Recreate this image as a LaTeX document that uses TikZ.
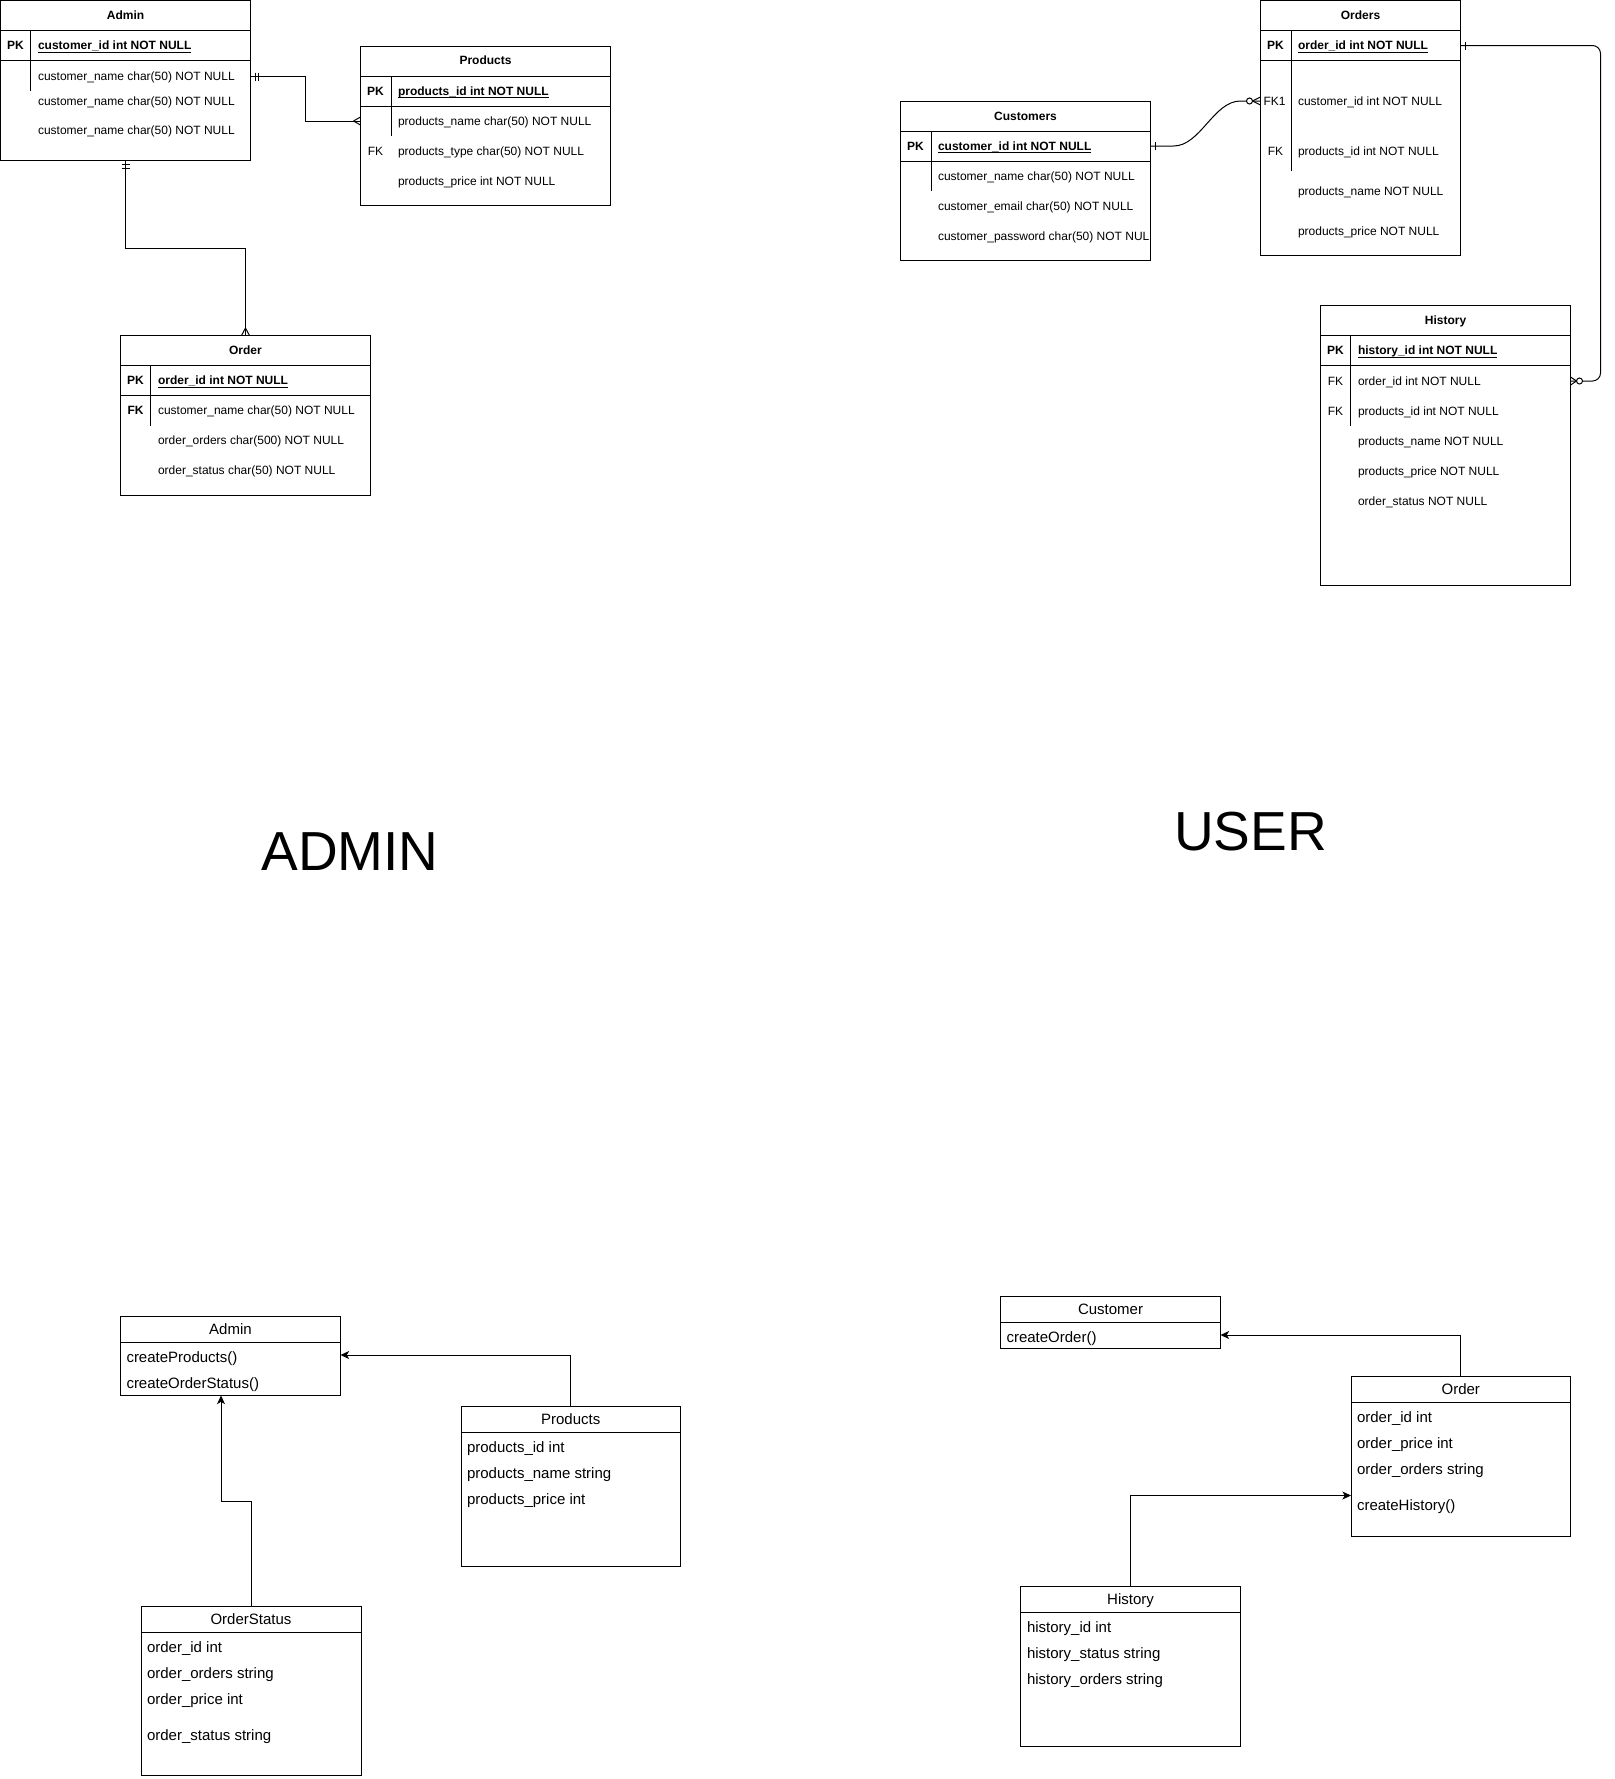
\documentclass[tikz,border=0pt]{standalone}
\usepackage{fontspec}
\setmainfont{Liberation Sans}
\usetikzlibrary{fit,arrows.meta}

% key field text: thin underline close to the baseline
\newcommand{\keyfield}[1]{\leavevmode\setbox0\hbox{\bfseries #1}\rlap{\rule[-1.9pt]{\wd0}{0.65pt}}\box0}

\begin{document}
\begin{tikzpicture}[x=0.75pt, y=-0.75pt, line width=0.75pt,
  tbl/.style={draw, inner sep=0pt, outer sep=0pt, fit={#1}},
  ertitle/.style={font=\fontsize{9}{11}\selectfont\bfseries, inner sep=0pt, text height=6.5pt, text depth=0pt, anchor=center},
  erkey/.style={font=\fontsize{9}{11}\selectfont, inner sep=0pt, text height=6.5pt, text depth=0pt, anchor=center},
  erfield/.style={font=\fontsize{9}{11}\selectfont, inner sep=0pt, text height=6.5pt, text depth=0pt, anchor=west},
  umltitle/.style={font=\fontsize{11.25}{13}\selectfont, inner sep=0pt, text height=8.1pt, text depth=0pt, anchor=center},
  umlfield/.style={font=\fontsize{11.25}{13}\selectfont, inner sep=0pt, text height=8.1pt, text depth=0pt, anchor=west},
  bigtitle/.style={font=\fontsize{41.25}{48}\selectfont, inner sep=0pt, text height=29.5pt, text depth=0pt, anchor=center},
  umlarrow/.style={-{Stealth[length=6.5pt,width=6pt,inset=1.8pt]}},
  zeromark/.style={draw, fill=white}
]
\fill[white] (-0.5,-0.5) rectangle (1614.5,1778.5);
\useasboundingbox (-0.5,-0.5) rectangle (1614.5,1778.5);

% ================= ER: admin side =================
% Admin table
\node[tbl={(0,0) (250,160)}] (erAdmin) {};
\draw (0,30) -- (250,30) (0,60) -- (250,60) (30,30) -- (30,90);
\node[ertitle] (admT) at (125,15) {Admin};
\node[erkey, font=\fontsize{9}{11}\selectfont\bfseries] (admPK) at (15,45) {PK};
\node[erfield] (admId) at (37,45) {\keyfield{customer\_id int NOT NULL}};
\node[erfield] (admN1) at (37,76) {customer\_name char(50) NOT NULL};
\node[erfield] (admN2) at (37,101) {customer\_name char(50) NOT NULL};
\node[erfield] (admN3) at (37,130) {customer\_name char(50) NOT NULL};

% Products table
\node[tbl={(360,45.5) (610,205)}] (erProducts) {};
\draw (360,75.5) -- (610,75.5) (360,105.5) -- (610,105.5) (390.5,75.5) -- (390.5,135);
\node[ertitle] (prdT) at (485,60) {Products};
\node[erkey, font=\fontsize{9}{11}\selectfont\bfseries] (prdPK) at (375,90.5) {PK};
\node[erfield] (prdId) at (397,90.5) {\keyfield{products\_id int NOT NULL}};
\node[erfield] (prdName) at (397,120.5) {products\_name char(50) NOT NULL};
\node[erkey] (prdFK) at (375,150.5) {FK};
\node[erfield] (prdType) at (397,150.5) {products\_type char(50) NOT NULL};
\node[erfield] (prdPrice) at (397,180.5) {products\_price int NOT NULL};

% Order table
\node[tbl={(120,335) (370,495)}] (erOrder) {};
\draw (120,365) -- (370,365) (120,395) -- (370,395) (150,365) -- (150,425);
\node[ertitle] (ordT) at (245,350) {Order};
\node[erkey, font=\fontsize{9}{11}\selectfont\bfseries] (ordPK) at (135,380) {PK};
\node[erfield] (ordId) at (157,380) {\keyfield{order\_id int NOT NULL}};
\node[erkey, font=\fontsize{9}{11}\selectfont\bfseries] (ordFK) at (135,410) {FK};
\node[erfield] (ordCust) at (157,410) {customer\_name char(50) NOT NULL};
\node[erfield] (ordOrders) at (157,440) {order\_orders char(500) NOT NULL};
\node[erfield] (ordStatus) at (157,470) {order\_status char(50) NOT NULL};

% Admin -> Products (one and only one to many)
\draw (erAdmin.east |- admN1) -- ++(55,0) |- (erProducts.west |- prdName);
\draw (erAdmin.east |- admN1) ++(4.5,-4) -- ++(0,8) ++(3.5,-8) -- ++(0,8);
\draw (erProducts.west |- prdName) ++(-7,0) -- ++(7,-4) ++(-7,4) -- ++(7,4);

% Admin -> Order (one and only one to many)
\draw (erAdmin.south) -- ++(0,87.5) -| (erOrder.north);
\draw (erAdmin.south) ++(-4,4) -- ++(8,0) ++(-8,4) -- ++(8,0);
\draw (erOrder.north) ++(0,-7.5) -- ++(-4,7.5) ++(4,-7.5) -- ++(4,7.5);

% ================= ER: user side =================
% Customers table
\node[tbl={(900,100.5) (1150,260)}] (erCustomers) {};
\draw (900,130.5) -- (1150,130.5) (900,160.5) -- (1150,160.5) (930.5,130.5) -- (930.5,190);
\node[ertitle] (cusT) at (1025,115.5) {Customers};
\node[erkey, font=\fontsize{9}{11}\selectfont\bfseries] (cusPK) at (915,145.5) {PK};
\node[erfield] (cusId) at (937,145.5) {\keyfield{customer\_id int NOT NULL}};
\node[erfield] (cusName) at (937,175.5) {customer\_name char(50) NOT NULL};
\node[erfield] (cusMail) at (937,205.5) {customer\_email char(50) NOT NULL};
\node[erfield] (cusPass) at (937,235.5) {customer\_password char(50) NOT NUL};

% Orders table
\node[tbl={(1260,0) (1460,255)}] (erOrders) {};
\draw (1260,30) -- (1460,30) (1260,60) -- (1460,60) (1290.5,30) -- (1290.5,170);
\node[ertitle] (osT) at (1360,15) {Orders};
\node[erkey, font=\fontsize{9}{11}\selectfont\bfseries] (osPK) at (1275,45) {PK};
\node[erfield] (osId) at (1297,45) {\keyfield{order\_id int NOT NULL}};
\node[erkey] (osFK1) at (1274,100.5) {FK1};
\node[erfield] (osCust) at (1297,100.5) {customer\_id int NOT NULL};
\node[erkey] (osFK2) at (1275,150.5) {FK};
\node[erfield] (osPrd) at (1297,150.5) {products\_id int NOT NULL};
\node[erfield] (osName) at (1297,190.5) {products\_name NOT NULL};
\node[erfield] (osPrice) at (1297,230.5) {products\_price NOT NULL};

% History table
\node[tbl={(1320,305) (1570,585)}] (erHistory) {};
\draw (1320,335) -- (1570,335) (1320,365) -- (1570,365) (1350,335) -- (1350,425);
\node[ertitle] (hsT) at (1445,320) {History};
\node[erkey, font=\fontsize{9}{11}\selectfont\bfseries] (hsPK) at (1335,350) {PK};
\node[erfield] (hsId) at (1357,350) {\keyfield{history\_id int NOT NULL}};
\node[erkey] (hsFK1) at (1335,380.5) {FK};
\node[erfield] (hsOrd) at (1357,380.5) {order\_id int NOT NULL};
\node[erkey] (hsFK2) at (1335,410.5) {FK};
\node[erfield] (hsPrd) at (1357,410.5) {products\_id int NOT NULL};
\node[erfield] (hsName) at (1357,440.5) {products\_name NOT NULL};
\node[erfield] (hsPrice) at (1357,470.5) {products\_price NOT NULL};
\node[erfield] (hsStatus) at (1357,500.5) {order\_status NOT NULL};

% Customers -> Orders (one to zero or many)
\draw (erCustomers.east |- cusPK) -- (1173,145.5) .. controls (1200,145.5) and (1213,100.5) .. (1240,100.5) -- (erOrders.west |- osFK1);
\draw (erCustomers.east |- cusPK) ++(4.5,-4) -- ++(0,8);
\draw (erOrders.west |- osFK1) ++(-8,0) -- ++(8,-4) ++(-8,4) -- ++(8,4);
\draw[zeromark] (erOrders.west |- osFK1) ++(-11,0) circle[radius=3];

% Orders -> History (one to zero or many)
\draw[rounded corners=6pt] (erOrders.east |- osPK) -- (1600,45) -- (1600,380.5) -- (erHistory.east |- hsFK1);
\draw (erOrders.east |- osPK) ++(4.5,-4) -- ++(0,8);
\draw (erHistory.east |- hsFK1) ++(6,0) -- ++(-6,-4) ++(6,4) -- ++(-6,4);
\draw[zeromark] (erHistory.east |- hsFK1) ++(9,0) circle[radius=3];

% ================= section captions =================
\node[bigtitle] (capAdmin) at (349.5,850) {ADMIN};
\node[bigtitle] (capUser) at (1250,830) {USER};

% ================= class diagram: admin side =================
\node[tbl={(120,1315.5) (340,1395)}] (umlAdmin) {};
\draw (120,1341.5) -- (340,1341.5);
\node[umltitle] (uaT) at (230,1328.5) {Admin};
\node[umlfield] (uaM1) at (125.5,1357) {createProducts()};
\node[umlfield] (uaM2) at (125.5,1383) {createOrderStatus()};

\node[tbl={(460.5,1405.5) (680,1565.5)}] (umlProducts) {};
\draw (460.5,1431.5) -- (680,1431.5);
\node[umltitle] (upT) at (570.25,1418.5) {Products};
\node[umlfield] (upA1) at (466,1447) {products\_id int};
\node[umlfield] (upA2) at (466,1473) {products\_name string};
\node[umlfield] (upA3) at (466,1499) {products\_price int};

\node[tbl={(140.5,1605.5) (360.5,1775)}] (umlOrderStatus) {};
\draw (140.5,1631.5) -- (360.5,1631.5);
\node[umltitle] (usT) at (250.5,1618.5) {OrderStatus};
\node[umlfield] (usA1) at (146,1647) {order\_id int};
\node[umlfield] (usA2) at (146,1673) {order\_orders string};
\node[umlfield] (usA3) at (146,1699) {order\_price int};
\node[umlfield] (usA4) at (146,1735) {order\_status string};

\draw[umlarrow] (umlProducts.north) |- (umlAdmin.east |- 0,1354.5);
\draw[umlarrow] (umlOrderStatus.north) |- (220.5,1500.5) -- (umlAdmin.south -| 220.5,0);

% ================= class diagram: user side =================
\node[tbl={(1000,1295.5) (1220,1347.5)}] (umlCustomer) {};
\draw (1000,1321.5) -- (1220,1321.5);
\node[umltitle] (ucT) at (1110,1308.5) {Customer};
\node[umlfield] (ucM1) at (1005.5,1337) {createOrder()};

\node[tbl={(1350.5,1375.5) (1570,1535.5)}] (umlOrder) {};
\draw (1350.5,1401.5) -- (1570,1401.5);
\node[umltitle] (uoT) at (1460.25,1388.5) {Order};
\node[umlfield] (uoA1) at (1356,1417) {order\_id int};
\node[umlfield] (uoA2) at (1356,1443) {order\_price int};
\node[umlfield] (uoA3) at (1356,1469) {order\_orders string};
\node[umlfield] (uoM1) at (1356,1505) {createHistory()};

\node[tbl={(1020,1585.5) (1240,1745.5)}] (umlHistory) {};
\draw (1020,1611.5) -- (1240,1611.5);
\node[umltitle] (uhT) at (1130,1598.5) {History};
\node[umlfield] (uhA1) at (1026,1627) {history\_id int};
\node[umlfield] (uhA2) at (1026,1653) {history\_status string};
\node[umlfield] (uhA3) at (1026,1679) {history\_orders string};

\draw[umlarrow] (umlOrder.north) |- (umlCustomer.east |- 0,1334.5);
\draw[umlarrow] (umlHistory.north) |- (umlOrder.west |- 0,1495);
\end{tikzpicture}
\end{document}
